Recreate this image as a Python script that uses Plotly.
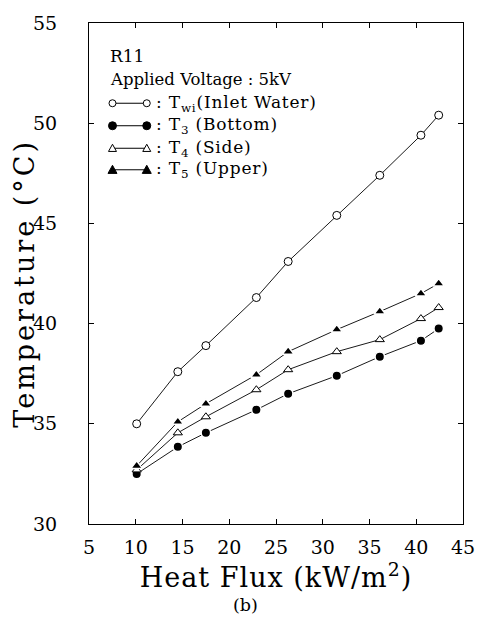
import plotly.graph_objects as go

# ---- data ----
HEAT_FLUX = [10.1, 14.5, 17.5, 22.9, 26.3, 31.5, 36.1, 40.5, 42.4]
T_WI = [35.0, 37.6, 38.9, 41.3, 43.1, 45.4, 47.4, 49.4, 50.4]
T3 = [32.5, 33.85, 34.55, 35.7, 36.5, 37.4, 38.35, 39.15, 39.75]
T4 = [32.7, 34.55, 35.35, 36.7, 37.7, 38.6, 39.2, 40.25, 40.8]
T5 = [32.9, 35.1, 36.0, 37.45, 38.6, 39.7, 40.6, 41.5, 42.0]

X_TICKS = [5, 10, 15, 20, 25, 30, 35, 40, 45]
Y_TICKS = [30, 35, 40, 45, 50, 55]

SERIES_NAMES = ["T<sub>wi</sub>(Inlet Water)", "T<sub>3</sub> (Bottom)",
                "T<sub>4</sub> (Side)", "T<sub>5</sub> (Upper)"]

W, H = 487, 626
L, R, T, B = 89, 471, 12, 524
FONT = "DejaVu Serif"


def spaced(txt, ls):
    return f'<span style="letter-spacing:{ls}px">{txt}</span>'


fig = go.Figure()

styles = [
    dict(symbol="circle", color="white", line=dict(color="black", width=1), size=8),
    dict(symbol="circle", color="black", line=dict(color="white", width=1.5), size=9.5),
    dict(symbol="triangle-up", color="white", line=dict(color="black", width=1), size=8),
    dict(symbol="triangle-up", color="black", line=dict(color="white", width=1.5), size=10),
]
for ys, st, nm in zip([T_WI, T3, T4, T5], styles, SERIES_NAMES):
    fig.add_trace(go.Scatter(
        x=HEAT_FLUX, y=ys, mode="lines+markers", name=nm,
        line=dict(color="black", width=0.9),
        marker=st, showlegend=False, cliponaxis=False))


def px2paper(px, py):
    return (px - L) / (R - L), 1 - (py - T) / (B - T)


annotations = []
shapes = []


def text_at(px, py, txt, size, xanchor="left", angle=0):
    xp, yp = px2paper(px, py)
    annotations.append(dict(x=xp, y=yp, xref="paper", yref="paper", text=txt,
                            showarrow=False, xanchor=xanchor, yanchor="middle",
                            textangle=angle,
                            font=dict(family=FONT, size=size, color="black")))


def marker_shape(px, py, kind):
    xp, yp = px2paper(px, py)
    if kind in ("oc", "fc"):
        r = 3.5 if kind == "oc" else 4
        shapes.append(dict(type="circle", xref="paper", yref="paper",
                           xsizemode="pixel", ysizemode="pixel",
                           xanchor=xp, yanchor=yp, x0=-r, x1=r, y0=-r, y1=r,
                           line=dict(color="black", width=1),
                           fillcolor="white" if kind == "oc" else "black"))
    else:
        s = 4 if kind == "ot" else 4.5
        path = f"M {-s} {-s*0.8} L {s} {-s*0.8} L 0 {s} Z"
        shapes.append(dict(type="path", xref="paper", yref="paper",
                           xsizemode="pixel", ysizemode="pixel",
                           xanchor=xp, yanchor=yp, path=path,
                           line=dict(color="black", width=1),
                           fillcolor="white" if kind == "ot" else "black"))


text_at(108, 46, "R11", 17)
text_at(108, 70, "Applied Voltage : 5kV", 16.5)
rows = [94, 117, 140, 162]
kinds = ["oc", "fc", "ot", "ft"]
for ry, kd, nm in zip(rows, kinds, SERIES_NAMES):
    x0p, y0p = px2paper(113, ry)
    x1p, _ = px2paper(148, ry)
    shapes.append(dict(type="line", xref="paper", yref="paper",
                       x0=x0p, x1=x1p, y0=y0p, y1=y0p,
                       line=dict(color="black", width=1)))
    marker_shape(113, ry, kd)
    marker_shape(148, ry, kd)
    text_at(155, ry, spaced(": " + nm, 0.8), 17)

# y-axis title (placed as rotated text to match the reference position)
text_at(23, 278, spaced("Temperature (°C)", 3), 27, xanchor="center", angle=-90)

# caption
text_at(249, 607, "(b)", 17.5, xanchor="center")

axis_common = dict(showline=True, linecolor="black", linewidth=1.2, mirror="allticks",
                   ticks="inside", ticklen=5, tickcolor="black", tickwidth=1,
                   showgrid=False, zeroline=False,
                   tickfont=dict(family=FONT, size=19, color="black"))

fig.update_layout(
    width=W, height=H,
    margin=dict(l=L, r=W - R, t=T, b=H - B),
    paper_bgcolor="white", plot_bgcolor="white",
    xaxis=dict(range=[5, 45], tickvals=X_TICKS, ticklabelstandoff=6, **axis_common,
               title=dict(text=spaced("Heat Flux (kW/m<sup>2</sup>)", 1), standoff=8,
                          font=dict(family=FONT, size=27, color="black"))),
    yaxis=dict(range=[30, 55], tickvals=Y_TICKS, ticklabelstandoff=27, **axis_common),
    annotations=annotations, shapes=shapes, showlegend=False,
)

fig.write_html("out.html")
